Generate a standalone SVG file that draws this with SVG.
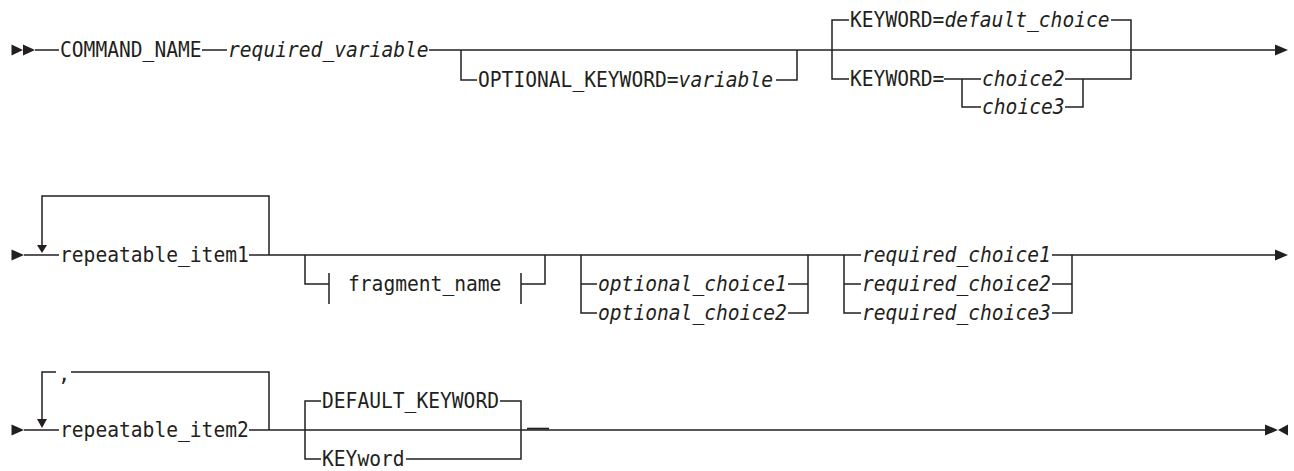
<svg xmlns="http://www.w3.org/2000/svg" width="1294" height="471" viewBox="0 0 1294 471">
<style>
text{font-family:"DejaVu Sans Mono","Liberation Mono",monospace;font-size:20.4px;fill:#231f20}
.i{font-style:italic}
.c{fill:none;stroke:#231f20;stroke-width:1.5}
.a{fill:#231f20;stroke:none}
</style>
<rect width="1294" height="471" fill="#fff"/>
<g id="connectors">
<path class="c" d="M35 50H59M202 50H227M429 50H1276"/>
<path class="c" d="M461 50V80H477M776 80H797V50"/>
<path class="c" d="M849 20H832V79H849M1111 20H1131V79H1083M944 79H981M962 79V107H981M1065 79H1083V107H1065"/>
<path class="c" d="M24 255H59M249 255H861M1052 255H1276"/>
<path class="c" d="M42 246V196H269V255"/>
<path class="c" d="M305 255V284H329M329 273V304M521 273V304M521 284H545V255"/>
<path class="c" d="M581 255V313H597M581 284H597M788 284H808M788 313H808V255"/>
<path class="c" d="M844 255V313H861M844 284H861M1052 284H1072M1052 313H1072V255"/>
<path class="c" d="M24 430H59M249 430H1266"/>
<path class="c" d="M42 419V372H56M71 372H269V430"/>
<path class="c" d="M321 401H305V459H321M500 401H521V459H406"/>
<path class="c" d="M527 428.6H549" style="stroke-width:1.8"/>
<path class="a" d="M11.5 44.5L23 50L11.5 55.5ZM23 44.5L35 50L23 55.5Z"/>
<path class="a" d="M1275 44.5L1288 50L1275 55.5Z"/>
<path class="a" d="M11.5 249.5L24 255L11.5 260.5Z"/>
<path class="a" d="M37 245L47 245L42 253Z"/>
<path class="a" d="M1275 249.5L1288 255L1275 260.5Z"/>
<path class="a" d="M11.5 424.5L24 430L11.5 435.5Z"/>
<path class="a" d="M37 419L47 419L42 428Z"/>
<path class="a" d="M1265 424.5L1278 430L1265 435.5ZM1288 424.5L1278 430L1288 435.5Z"/>
</g>
<g id="n-command"><text x="60" y="57" textLength="141.6" lengthAdjust="spacingAndGlyphs">COMMAND_NAME</text></g>
<g id="n-reqvar"><text x="228" y="57" class="i" textLength="200.6" lengthAdjust="spacingAndGlyphs">required_variable</text></g>
<g id="n-optkw"><text x="478" y="87" textLength="295" lengthAdjust="spacingAndGlyphs">OPTIONAL_KEYWORD=<tspan class="i">variable</tspan></text></g>
<g id="n-kwdefault"><text x="850" y="27" textLength="259.6" lengthAdjust="spacingAndGlyphs">KEYWORD=<tspan class="i">default_choice</tspan></text></g>
<g id="n-kw"><text x="850" y="86" textLength="94.4" lengthAdjust="spacingAndGlyphs">KEYWORD=</text></g>
<g id="n-choice2"><text x="982" y="86" class="i" textLength="82.6" lengthAdjust="spacingAndGlyphs">choice2</text></g>
<g id="n-choice3"><text x="982" y="114" class="i" textLength="82.6" lengthAdjust="spacingAndGlyphs">choice3</text></g>
<g id="n-rep1"><text x="60" y="262" textLength="188.8" lengthAdjust="spacingAndGlyphs">repeatable_item1</text></g>
<g id="n-fragment"><text x="348" y="291" textLength="153.4" lengthAdjust="spacingAndGlyphs">fragment_name</text></g>
<g id="n-opt1"><text x="598" y="291" class="i" textLength="188.8" lengthAdjust="spacingAndGlyphs">optional_choice1</text></g>
<g id="n-opt2"><text x="598" y="320" class="i" textLength="188.8" lengthAdjust="spacingAndGlyphs">optional_choice2</text></g>
<g id="n-req1"><text x="862" y="262" class="i" textLength="188.8" lengthAdjust="spacingAndGlyphs">required_choice1</text></g>
<g id="n-req2"><text x="862" y="291" class="i" textLength="188.8" lengthAdjust="spacingAndGlyphs">required_choice2</text></g>
<g id="n-req3"><text x="862" y="320" class="i" textLength="188.8" lengthAdjust="spacingAndGlyphs">required_choice3</text></g>
<g id="n-comma"><text x="58" y="381">,</text></g>
<g id="n-rep2"><text x="60" y="437" textLength="188.8" lengthAdjust="spacingAndGlyphs">repeatable_item2</text></g>
<g id="n-defkw"><text x="322" y="408" textLength="177" lengthAdjust="spacingAndGlyphs">DEFAULT_KEYWORD</text></g>
<g id="n-keyword"><text x="322" y="466" textLength="82.6" lengthAdjust="spacingAndGlyphs">KEYword</text></g>
</svg>
